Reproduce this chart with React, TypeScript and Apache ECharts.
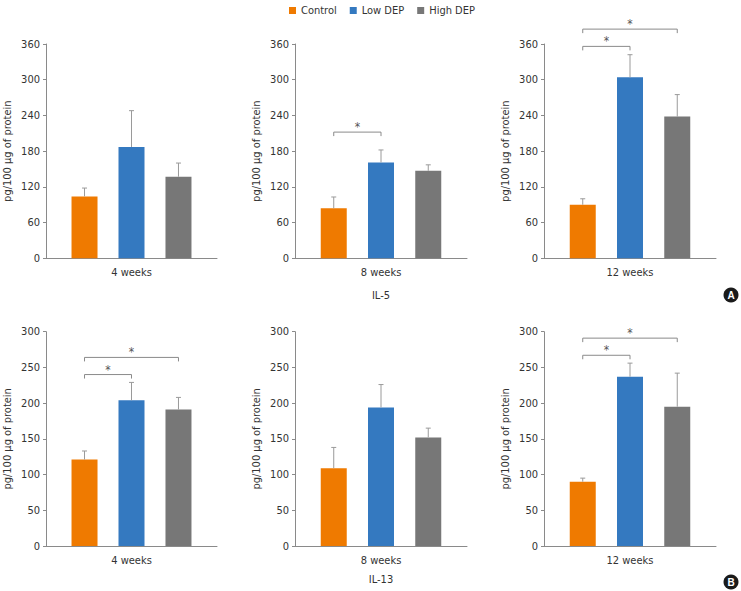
import React, { useEffect, useRef } from "react";
import * as echarts from "echarts";

const periods = ["4 weeks", "8 weeks", "12 weeks"];
const groups = ["Control", "Low DEP", "High DEP"];
const groupColors = ["#EF7A00", "#3479C0", "#777777"];

// IL-5 (pg/100 µg of protein)
const il5Control = [104, 84, 90];
const il5ControlErr = [14, 19, 10];
const il5Low = [187, 161, 304];
const il5LowErr = [61, 21, 38];
const il5High = [137, 147, 238];
const il5HighErr = [23, 10, 37];
const il5Ticks = { max: 360, interval: 60 };
// brackets: [from group, to group, level]
const il5Brackets = [[], [[0, 1, 212]], [[0, 1, 356], [0, 2, 385]]];

// IL-13
const il13Control = [121, 109, 90];
const il13ControlErr = [12, 29, 5];
const il13Low = [204, 194, 237];
const il13LowErr = [25, 32, 19];
const il13High = [191, 152, 195];
const il13HighErr = [17, 13, 47];
const il13Ticks = { max: 300, interval: 50 };
const il13Brackets = [[[0, 1, 240], [0, 2, 264]], [], [[0, 1, 267], [0, 2, 291]]];

const FONT = "'Liberation Sans Narrow', 'DejaVu Sans Condensed', 'Roboto Condensed', sans-serif";
const FS = 11;
const TEXT = "#333";
const AXIS = "#8a8a8a";

export default function App() {
  const ref = useRef<HTMLDivElement>(null);
  useEffect(() => {
    if (!ref.current) return;
    const chart = echarts.init(ref.current, null, { renderer: "svg" });

    const lefts = [46, 295, 544];
    const widths = [171, 172, 172];
    const tops = [44, 331.7];
    const H = 214.3;

    const rows = [
      { vals: [il5Control, il5Low, il5High], errs: [il5ControlErr, il5LowErr, il5HighErr], ticks: il5Ticks, brackets: il5Brackets },
      { vals: [il13Control, il13Low, il13High], errs: [il13ControlErr, il13LowErr, il13HighErr], ticks: il13Ticks, brackets: il13Brackets },
    ];

    const grid: any[] = [];
    const xAxis: any[] = [];
    const yAxis: any[] = [];
    const series: any[] = [];

    rows.forEach((row, r) => {
      periods.forEach((period, p) => {
        const idx = r * 3 + p;
        grid.push({ left: lefts[p], top: tops[r], width: widths[p], height: H, containLabel: false });
        xAxis.push({
          type: "value",
          gridIndex: idx,
          min: 0.18,
          max: 3.82,
          splitLine: { show: false },
          axisTick: { show: false },
          axisLabel: { show: false },
          axisLine: { lineStyle: { color: AXIS, width: 1 } },
          name: period,
          nameLocation: "middle",
          nameGap: 9,
          nameTextStyle: { color: TEXT, fontSize: FS, fontFamily: FONT, verticalAlign: "top" },
        });
        yAxis.push({
          type: "value",
          gridIndex: idx,
          min: 0,
          max: row.ticks.max,
          interval: row.ticks.interval,
          splitLine: { show: false },
          axisLine: { show: true, lineStyle: { color: AXIS, width: 1 } },
          axisTick: { show: true, length: 3, lineStyle: { color: AXIS } },
          axisLabel: { color: TEXT, fontSize: FS, fontFamily: FONT, margin: 6 },
          name: "pg/100 μg of protein",
          nameLocation: "middle",
          nameGap: 33,
          nameTextStyle: { color: TEXT, fontSize: FS, fontFamily: FONT },
        });
        groups.forEach((g, gi) => {
          series.push({
            type: "bar",
            name: g,
            xAxisIndex: idx,
            yAxisIndex: idx,
            barWidth: 26,
            barGap: "-100%",
            itemStyle: { color: groupColors[gi] },
            data: [[gi + 1, row.vals[gi][p]]],
            silent: true,
          });
        });
        series.push({
          type: "custom",
          xAxisIndex: idx,
          yAxisIndex: idx,
          silent: true,
          z: 3,
          encode: { x: 0, y: 1 },
          data: groups.map((_, gi) => [gi + 1, row.vals[gi][p], row.errs[gi][p]]),
          renderItem: (params: any, api: any) => {
            const x = api.value(0);
            const v = api.value(1);
            const e = api.value(2);
            const a = api.coord([x, v]);
            const b = api.coord([x, v + e]);
            const st = { stroke: "#9a9a9a", lineWidth: 1 };
            return {
              type: "group",
              children: [
                { type: "line", shape: { x1: a[0], y1: a[1], x2: b[0], y2: b[1] }, style: st },
                { type: "line", shape: { x1: b[0] - 2.5, y1: b[1], x2: b[0] + 2.5, y2: b[1] }, style: st },
              ],
            };
          },
        });
        const br = row.brackets[p];
        if (br.length) {
          series.push({
            type: "custom",
            xAxisIndex: idx,
            yAxisIndex: idx,
            silent: true,
            clip: false,
            z: 3,
            encode: { x: [0, 1], y: 2 },
            data: br.map((b) => [b[0] + 1, b[1] + 1, b[2]]),
            renderItem: (params: any, api: any) => {
              const a = api.coord([api.value(0), api.value(2)]);
              const b = api.coord([api.value(1), api.value(2)]);
              return {
                type: "group",
                children: [
                  {
                    type: "polyline",
                    shape: { points: [[a[0], a[1] + 4], [a[0], a[1]], [b[0], a[1]], [b[0], a[1] + 4]] },
                    style: { stroke: "#8a8a8a", lineWidth: 1, fill: "none" },
                  },
                  {
                    type: "text",
                    x: (a[0] + b[0]) / 2,
                    y: a[1] - 5,
                    style: { text: "*", fontSize: 12, fontFamily: FONT, fill: "#555", align: "center", verticalAlign: "middle" },
                  },
                ],
              };
            },
          });
        }
      });
    });

    chart.setOption({
      animation: false,
      backgroundColor: "#fff",
      legend: {
        data: groups,
        left: 284,
        top: 0,
        icon: "rect",
        itemWidth: 7,
        itemHeight: 7,
        itemGap: 13,
        textStyle: { color: TEXT, fontSize: FS, fontFamily: FONT },
        selectedMode: false,
      },
      grid,
      xAxis,
      yAxis,
      series,
      graphic: [
        { type: "text", x: 381, y: 295, style: { text: "IL-5", fontSize: FS, fontFamily: FONT, fill: TEXT, align: "center", verticalAlign: "middle" } },
        { type: "text", x: 381, y: 579, style: { text: "IL-13", fontSize: FS, fontFamily: FONT, fill: TEXT, align: "center", verticalAlign: "middle" } },
        { type: "circle", shape: { cx: 731, cy: 295, r: 7.5 }, style: { fill: "#1a1a1a" } },
        { type: "text", x: 731, y: 295.5, style: { text: "A", fontSize: 10, fontWeight: "bold", fontFamily: "'Liberation Sans', sans-serif", fill: "#fff", align: "center", verticalAlign: "middle" } },
        { type: "circle", shape: { cx: 731, cy: 582, r: 7.5 }, style: { fill: "#1a1a1a" } },
        { type: "text", x: 731, y: 582.5, style: { text: "B", fontSize: 10, fontWeight: "bold", fontFamily: "'Liberation Sans', sans-serif", fill: "#fff", align: "center", verticalAlign: "middle" } },
      ],
    });
    return () => chart.dispose();
  }, []);
  return <div ref={ref} style={{ position: "fixed", left: 0, top: 0, width: 741, height: 591 }} />;
}
